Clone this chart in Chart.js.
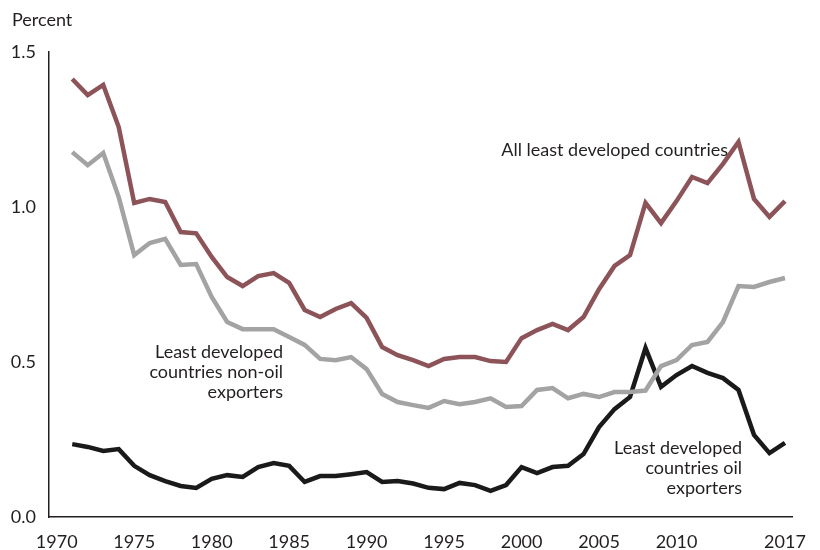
<!DOCTYPE html>
<html>
<head>
<meta charset="utf-8">
<script src="https://cdn.jsdelivr.net/npm/chart.js@4/dist/chart.umd.min.js"></script>
<style>
  html, body { margin: 0; padding: 0; background: #fff; }
  #wrap { width: 820px; height: 550px; position: relative; }
</style>
</head>
<body>
<div id="wrap"><canvas id="c" width="820" height="550"></canvas></div>
<script>
const years = [1971,1972,1973,1974,1975,1976,1977,1978,1979,1980,1981,1982,1983,1984,1985,1986,1987,1988,1989,1990,1991,1992,1993,1994,1995,1996,1997,1998,1999,2000,2001,2002,2003,2004,2005,2006,2007,2008,2009,2010,2011,2012,2013,2014,2015,2016,2017];

const allLDC = [1.413,1.361,1.394,1.258,1.013,1.026,1.016,0.919,0.915,0.839,0.774,0.745,0.777,0.787,0.755,0.668,0.645,0.671,0.690,0.642,0.548,0.522,0.506,0.487,0.510,0.516,0.516,0.503,0.500,0.577,0.603,0.623,0.603,0.645,0.735,0.810,0.845,1.013,0.948,1.019,1.097,1.077,1.139,1.210,1.026,0.968,1.019];

const nonOil = [1.177,1.135,1.174,1.032,0.845,0.884,0.897,0.813,0.816,0.710,0.629,0.606,0.606,0.606,0.581,0.555,0.510,0.506,0.516,0.477,0.397,0.371,0.361,0.352,0.374,0.364,0.371,0.383,0.355,0.358,0.410,0.416,0.383,0.397,0.387,0.403,0.403,0.408,0.487,0.506,0.555,0.565,0.629,0.745,0.742,0.758,0.771];

const oil = [0.235,0.226,0.213,0.219,0.165,0.135,0.116,0.100,0.094,0.123,0.135,0.129,0.161,0.174,0.165,0.113,0.132,0.132,0.138,0.145,0.113,0.116,0.108,0.094,0.090,0.110,0.103,0.084,0.103,0.161,0.142,0.161,0.165,0.203,0.290,0.348,0.387,0.545,0.420,0.458,0.487,0.465,0.448,0.410,0.265,0.206,0.239];

const xTicks = [1970,1975,1980,1985,1990,1995,2000,2005,2010,2017];
const yTicks = [0.0,0.5,1.0,1.5];

const FONT = 'Lato, "Open Sans", sans-serif';
const TXT = '#231f20';

function pts(arr) { return years.map((y, i) => ({ x: y, y: arr[i] })); }

const labelsPlugin = {
  id: 'labelsPlugin',
  afterDraw(chart) {
    const ctx = chart.ctx;
    ctx.save();
    ctx.fillStyle = TXT;
    ctx.textBaseline = 'middle';
    ctx.font = '18px ' + FONT;
    ctx.textAlign = 'left';
    ctx.fillText('Percent', 12, 20);
    ctx.textAlign = 'right';
    ctx.fillText('All least developed countries', 728, 150);
    ['Least developed', 'countries non-oil', 'exporters'].forEach((t, i) => ctx.fillText(t, 283, 352 + i * 20));
    ['Least developed', 'countries oil', 'exporters'].forEach((t, i) => ctx.fillText(t, 742, 448 + i * 20));
    ctx.restore();
  }
};

new Chart(document.getElementById('c'), {
  type: 'line',
  data: {
    datasets: [
      { label: 'All least developed countries', data: pts(allLDC), borderColor: '#8c5459', borderWidth: 4.5 },
      { label: 'Least developed countries non-oil exporters', data: pts(nonOil), borderColor: '#a3a3a3', borderWidth: 4.5 },
      { label: 'Least developed countries oil exporters', data: pts(oil), borderColor: '#1a1a1a', borderWidth: 4.5 }
    ]
  },
  options: {
    responsive: false,
    animation: false,
    devicePixelRatio: 1,
    elements: { point: { radius: 0 }, line: { tension: 0, borderJoinStyle: 'miter', borderCapStyle: 'butt' } },
    layout: { padding: { top: 52, right: 15, bottom: 0, left: 0 } },
    plugins: { legend: { display: false }, tooltip: { enabled: false } },
    scales: {
      x: {
        type: 'linear',
        min: 1969.5,
        max: 2017.5,
        afterBuildTicks(axis) { axis.ticks = xTicks.map(v => ({ value: v })); },
        afterFit(axis) { axis.height = 33; },
        grid: { display: false, drawTicks: false },
        border: { display: true, color: '#231f20', width: 1.5 },
        ticks: { color: TXT, font: { family: FONT, size: 18 }, padding: 14, maxRotation: 0, autoSkip: false, callback: v => String(v) }
      },
      y: {
        type: 'linear',
        min: 0,
        max: 1.5,
        afterBuildTicks(axis) { axis.ticks = yTicks.map(v => ({ value: v })); },
        afterFit(axis) { axis.width = 49; },
        grid: { display: false, drawTicks: false },
        border: { display: true, color: '#231f20', width: 1.5 },
        ticks: { color: TXT, font: { family: FONT, size: 18 }, padding: 13, callback: v => v.toFixed(1) }
      }
    }
  },
  plugins: [labelsPlugin]
});
</script>
</body>
</html>
